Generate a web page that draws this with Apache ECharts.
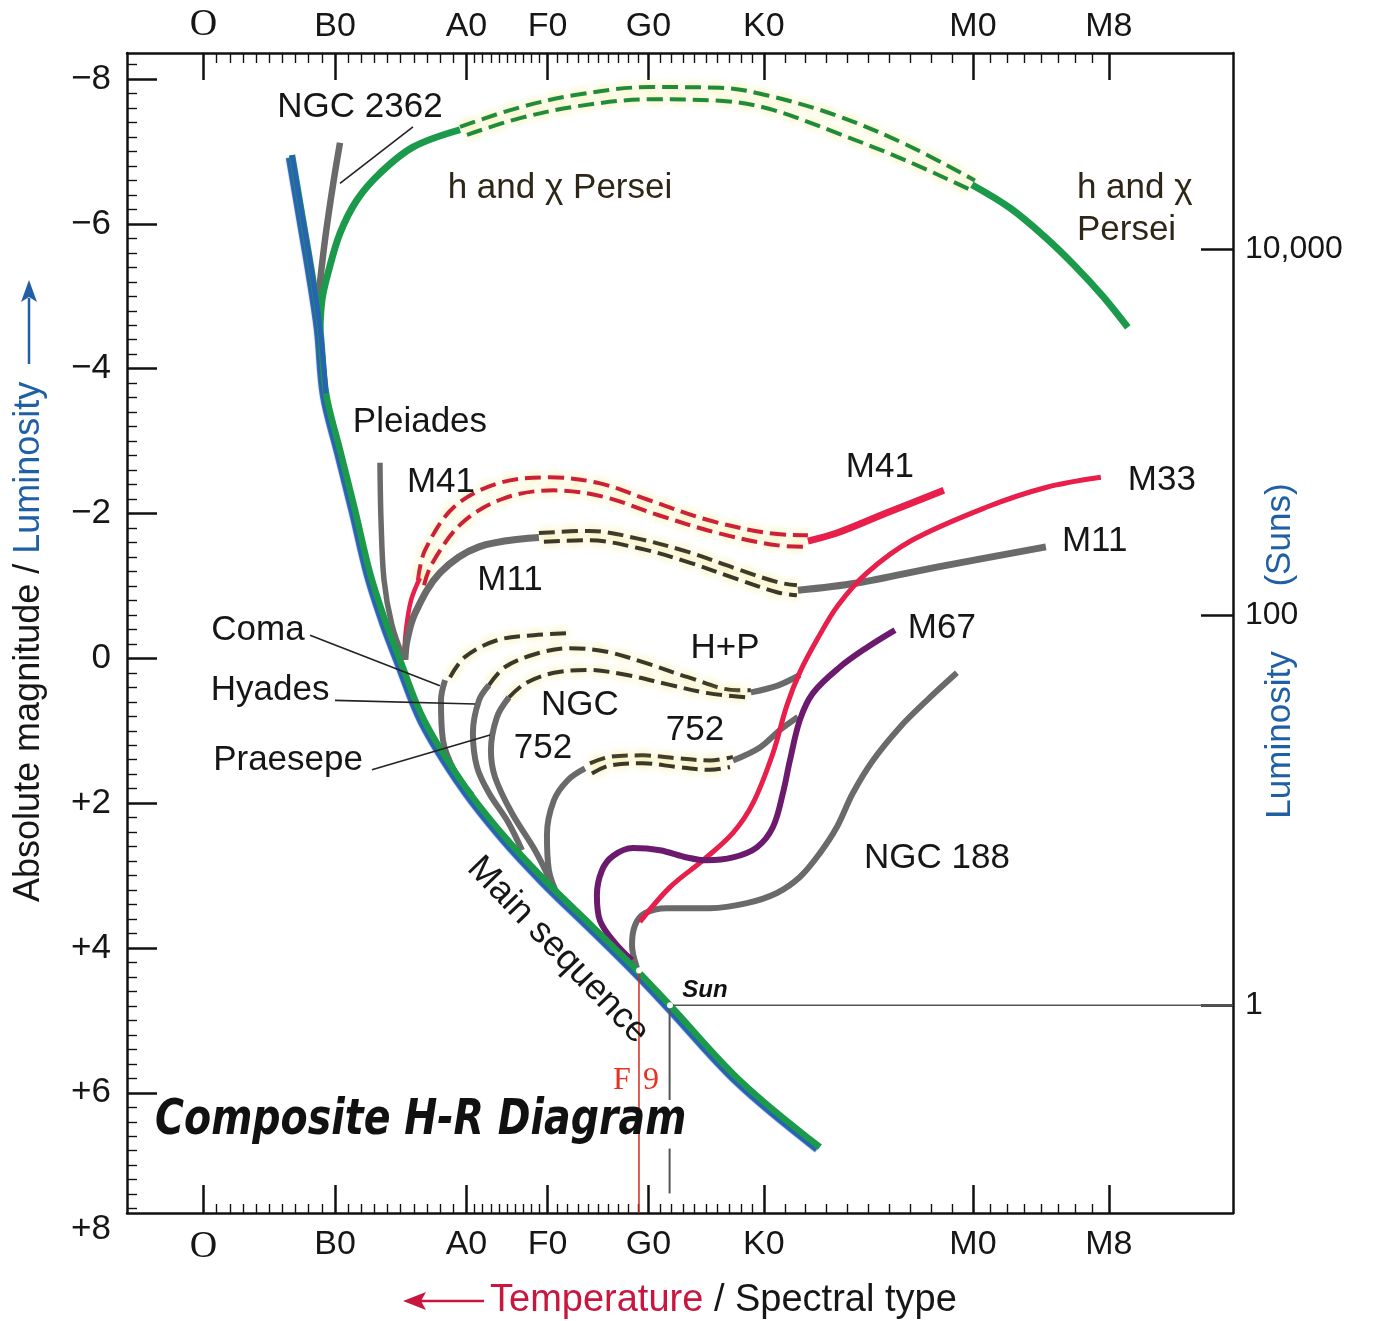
<!DOCTYPE html>
<html><head><meta charset="utf-8">
<script src="https://cdn.jsdelivr.net/npm/echarts/dist/echarts.min.js"></script>
<style>html,body{margin:0;padding:0;background:#fff}#c{width:1377px;height:1321px}</style>
</head><body><div id="c"></div>
<script>
// ---------- axes (x = spectral position, O=0, B0=10, A0=20 ; y = absolute magnitude) ----------
const XMIN = -5.82, XMAX = 78.3;
const YMIN = -8.36, YMAX = 7.66;
const spectralLabels = ['O', 'B0', 'A0', 'F0', 'G0', 'K0', 'M0', 'M8'];
const spectralPos    = [0, 10, 20, 26.16, 33.84, 42.62, 58.52, 68.86];
const spectralSubdiv = [10, 10, 10, 10, 10, 10, 8];
const magTicks  = [-8, -6, -4, -2, 0, 2, 4, 6];
const magLabels = ['\u22128', '\u22126', '\u22124', '\u22122', '0', '+2', '+4', '+6'];
const magBottomLabel = '+8';
const lumLabels = ['10,000', '100', '1'];
const lumPos    = [-5.65, -0.60, 4.79];

// ---------- curves [spectral position, magnitude] ----------
const mainSequence = [[6.73,-6.95],[7.57,-6.05],[8.25,-5.32],[8.86,-4.57],[9.32,-3.66],[10.38,-2.88],[11.52,-2.05],[12.66,-1.18],[13.80,-0.53],[14.94,0.02],[16.77,0.85],[19.89,1.77],[22.93,2.47],[26.05,3.08],[29.62,3.71],[32.97,4.31],[35.48,4.79],[40.80,5.83],[46.88,6.75]];
const ngc2362 = [[10.38,-7.12],[9.85,-6.54],[9.24,-5.78],[8.71,-4.95]];
const perseiLeft = [[8.86,-4.53],[9.01,-4.95],[9.47,-5.32],[10.38,-5.87],[11.67,-6.33],[13.42,-6.70],[15.93,-7.06],[19.51,-7.30]];
const perseiUpper = [[19.51,-7.34],[24.07,-7.61],[28.63,-7.79],[33.95,-7.89],[39.28,-7.88],[43.00,-7.77],[48.25,-7.49],[53.50,-7.09],[58.67,-6.60]];
const perseiLower = [[20.04,-7.23],[24.07,-7.46],[28.63,-7.63],[33.95,-7.72],[39.28,-7.70],[43.00,-7.59],[48.25,-7.25],[53.50,-6.87],[58.21,-6.48]];
const perseiRight = [[58.44,-6.54],[61.33,-6.22],[63.99,-5.82],[66.27,-5.42],[68.40,-5.00],[70.30,-4.57]];
const pleiades = [[13.42,-2.70],[13.50,-1.91],[13.73,-1.08],[14.33,-0.46],[15.25,0.02]];
const m41Left  = [[15.25,0.02],[15.40,-0.39],[15.78,-0.80],[16.46,-1.11]];
const m41Upper = [[16.31,-1.08],[16.84,-1.49],[19.05,-2.09],[22.47,-2.42],[26.27,-2.50],[30.08,-2.42],[33.80,-2.19],[38.37,-1.91],[42.93,-1.73],[45.97,-1.70]];
const m41Lower = [[16.77,-1.01],[17.38,-1.31],[19.66,-1.87],[22.85,-2.21],[26.65,-2.32],[30.46,-2.23],[34.56,-1.98],[39.13,-1.73],[43.69,-1.56],[45.97,-1.54]];
const m41Right = [[45.97,-1.62],[48.17,-1.73],[51.98,-2.01],[56.31,-2.32]];
const m11Left  = [[15.32,0.02],[15.48,-0.25],[16.08,-0.62],[17.98,-1.18],[20.95,-1.54],[25.51,-1.67]];
const m11Upper = [[25.51,-1.73],[29.32,-1.76],[33.12,-1.65],[36.84,-1.47],[40.65,-1.23],[43.69,-1.05],[45.13,-1.01]];
const m11Lower = [[25.89,-1.61],[29.32,-1.63],[33.12,-1.52],[36.84,-1.33],[40.65,-1.09],[43.69,-0.91],[45.13,-0.87]];
const m11Right = [[45.21,-0.94],[49.70,-1.04],[55.78,-1.26],[64.07,-1.54]];
const m3 = [[33.19,3.64],[35.48,3.16],[37.98,2.79],[40.27,2.41],[41.79,2.00],[43.31,1.31],[44.37,0.65],[45.36,0.19],[46.73,-0.28],[48.25,-0.73],[50.46,-1.18],[53.88,-1.63],[59.58,-2.09],[64.07,-2.36],[68.25,-2.50]];
const m67 = [[32.59,4.17],[31.29,3.93],[30.15,3.62],[29.92,3.27],[30.30,2.93],[31.14,2.73],[32.66,2.62],[34.71,2.65],[36.77,2.75],[38.29,2.79],[40.27,2.75],[42.09,2.61],[43.31,2.33],[44.07,1.86],[44.60,1.41],[45.36,0.85],[46.35,0.48],[48.40,0.12],[50.46,-0.15],[52.59,-0.39]];
const ngc188 = [[32.97,4.28],[32.59,3.96],[32.81,3.69],[33.57,3.52],[35.25,3.45],[38.52,3.45],[41.33,3.38],[43.61,3.24],[45.36,3.02],[46.88,2.69],[48.17,2.33],[49.39,1.86],[50.91,1.41],[52.97,0.95],[55.02,0.58],[57.30,0.20]];
const coma     = [[18.37,0.30],[18.06,0.58],[18.21,1.13],[19.13,1.57],[20.42,1.89]];
const hyades   = [[21.71,0.37],[20.95,0.58],[20.49,1.03],[20.80,1.50],[21.71,1.86],[23.16,2.26],[24.22,2.65]];
const praesepe = [[23.23,0.54],[22.32,0.81],[21.86,1.27],[22.17,1.64],[23.46,2.14],[25.21,2.65],[26.35,3.06]];
const comaDash = [[18.75,0.26],[19.89,-0.02],[22.32,-0.25],[25.13,-0.32],[27.87,-0.35]];
const hpUpper  = [[21.71,0.37],[22.93,0.12],[25.44,-0.07],[27.87,-0.14],[30.68,-0.09],[33.73,0.07],[36.84,0.26],[40.57,0.44],[41.63,0.44]];
const hpLower  = [[23.23,0.54],[24.52,0.34],[26.65,0.20],[29.16,0.16],[32.21,0.23],[35.32,0.36],[38.37,0.48],[41.41,0.54]];
const hpRight  = [[41.63,0.47],[43.61,0.38],[45.36,0.23]];
const ngc752Left  = [[27.11,3.34],[26.27,2.93],[26.12,2.44],[26.65,1.96],[27.72,1.68],[29.01,1.52]];
const ngc752Upper = [[29.39,1.45],[30.91,1.36],[33.42,1.34],[36.01,1.38],[38.52,1.41],[40.27,1.36]];
const ngc752Lower = [[29.54,1.59],[30.91,1.48],[33.42,1.45],[36.01,1.50],[38.52,1.54],[40.04,1.50]];
const ngc752Right = [[40.27,1.41],[42.32,1.23],[43.84,0.99],[45.21,0.81]];
const leaderNgc2362  = [[10.38,-6.56],[15.93,-7.34]];
const leaderComa     = [[8.10,-0.32],[17.98,0.38]];
const leaderHyades   = [[10.0,0.58],[20.65,0.63]];
const leaderPraesepe = [[12.81,1.54],[21.79,1.06]];
const sunPoint = [35.48, 4.79];
const f9Point  = [33.12, 4.31];
const sunLineH = [[35.48,4.79],[78.3,4.79]];
const sunDropA = [[35.45,4.84],[35.45,6.10]];
const sunDropB = [[35.45,6.77],[35.45,7.39]];
const f9Line   = [[33.12,4.31],[33.12,7.66]];

// ---------- annotations [text, x, y, kind] ----------
const annotations = [
  ['NGC 2362', 11.90, -7.61, 'c'],
  ['h and \u03c7 Persei', 27.11, -6.49, 'p'],
  ['h and \u03c7\nPersei', 66.43, -6.20, 'pl'],
  ['Pleiades', 16.46, -3.26, 'c'],
  ['M41', 18.06, -2.43, 'c'],
  ['M41', 51.44, -2.64, 'c'],
  ['M33', 70.30, -2.46, 'l'],
  ['M11', 23.31, -1.08, 'c'],
  ['M11', 65.29, -1.61, 'l'],
  ['Coma', 4.14, -0.39, 'c'],
  ['H+P', 39.66, -0.14, 'c'],
  ['Hyades', 5.06, 0.44, 'c'],
  ['NGC', 28.63, 0.65, 'c'],
  ['752', 25.82, 1.24, 'c'],
  ['752', 37.38, 0.99, 'c'],
  ['Praesepe', 6.43, 1.41, 'c'],
  ['M67', 53.57, -0.42, 'l'],
  ['NGC 188', 55.78, 2.76, 'c'],
  ['Main sequence', 26.96, 4.03, 'ms'],
  ['Sun', 38.14, 4.58, 'sun'],
  ['F', 31.83, 5.83, 'f9'],
  ['9', 34.03, 5.83, 'f9']
];

// ---------- styling ----------
const FONT = 'Liberation Sans';
const AX = '#111', TXT = '#161616', BLUE = '#1f5fa6', CRIMSON = '#c8163f';
const GRAY = '#6a6a6a', RED = '#e81e4b', PURPLE = '#6c1a6e', GREEN = '#1c9a4c', MSBLUE = '#2762b3';
const DASHDARK = '#3b372a', DASHGREEN = '#1f8b3b', DASHRED = '#cc1f3a';
const GLOW = 'rgba(240,230,110,0.95)';

const majorX = spectralPos.slice();
const minorX = [];
for (let i = 0; i < spectralPos.length - 1; i++) {
  const a = spectralPos[i], b = spectralPos[i + 1], n = spectralSubdiv[i];
  for (let k = 1; k < n; k++) minorX.push(a + (b - a) * k / n);
}
const minorY = [];
for (let k = -41; k <= 38; k++) { if (k % 10 !== 0) minorY.push(k / 5); }

function fmtX(v) {
  for (let i = 0; i < spectralPos.length; i++) if (Math.abs(v - spectralPos[i]) < 1e-6) return spectralLabels[i] === 'O' ? '{s|O}' : spectralLabels[i];
  return '';
}
function fmtY(v) {
  for (let i = 0; i < magTicks.length; i++) if (Math.abs(v - magTicks[i]) < 1e-6) return magLabels[i];
  if (Math.abs(v - YMAX) < 1e-6) return '{d|' + magBottomLabel + '}';
  return '';
}
function fmtLum(v) {
  for (let i = 0; i < lumPos.length; i++) if (Math.abs(v - lumPos[i]) < 1e-6) return lumLabels[i];
  return '';
}
function xMajor(pos, len) {
  return {type:'value', position:pos, min:XMIN, max:XMAX,
    axisLine:{show:true, onZero:false, lineStyle:{color:AX, width:2.5}},
    axisTick:{show:true, inside:true, length:len, customValues:majorX, lineStyle:{color:AX, width:2.5}},
    axisLabel:{show:true, customValues:majorX, margin: pos === 'top' ? 9 : 15, fontSize:34, color:TXT, fontFamily:FONT,
      formatter:fmtX, rich:{s:{fontFamily:'Liberation Serif', fontSize:38, color:TXT}}},
    splitLine:{show:false}};
}
function xMinor(pos, len) {
  return {type:'value', position:pos, min:XMIN, max:XMAX,
    axisLine:{show:false, onZero:false},
    axisTick:{show:true, inside:true, length:len, customValues:minorX, lineStyle:{color:AX, width:1.4}},
    axisLabel:{show:false}, splitLine:{show:false}};
}
function curve(data, color, width, z, extra) {
  const ls = Object.assign({color:color, width:width, cap:'round', join:'round'}, extra || {});
  return {type:'line', data:data, xAxisIndex:0, yAxisIndex:0, symbol:'none', smooth:0.35, silent:true, z:z, lineStyle:ls};
}
function dashed(data, color, z) {
  return curve(data, color, 4, z, {type:[16, 7], cap:'butt', shadowColor:GLOW, shadowBlur:8});
}
function straight(data, color, width, z) {
  return {type:'line', data:data, xAxisIndex:0, yAxisIndex:0, symbol:'none', smooth:false, silent:true, z:z,
    lineStyle:{color:color, width:width, cap:'butt'}};
}

const labelItems = annotations.map(function (a) {
  const kind = a[3];
  const lab = {show:true, formatter:a[0], position:'inside', fontFamily:FONT, fontSize:35, color:TXT, align:'center', verticalAlign:'middle', opacity:1};
  if (kind === 'l') lab.align = 'left';
  if (kind === 'p') lab.color = '#2e2718';
  if (kind === 'pl') { lab.color = '#2e2718'; lab.align = 'left'; lab.lineHeight = 42; }
  if (kind === 'ms') { lab.rotate = -46; lab.fontSize = 36; }
  if (kind === 'sun') { lab.fontSize = 24; lab.fontStyle = 'italic'; lab.fontWeight = 'bold'; lab.color = '#111'; }
  if (kind === 'f9') { lab.fontSize = 32; lab.fontFamily = 'Liberation Serif'; lab.color = '#e8321f'; }
  return {value:[a[1], a[2]], label:lab};
});

const series = [
  dashed(perseiUpper, DASHGREEN, 2), dashed(perseiLower, DASHGREEN, 2),
  dashed(m41Upper, DASHRED, 2), dashed(m41Lower, DASHRED, 2),
  dashed(m11Upper, DASHDARK, 2), dashed(m11Lower, DASHDARK, 2),
  dashed(comaDash, DASHDARK, 2), dashed(hpUpper, DASHDARK, 2), dashed(hpLower, DASHDARK, 2),
  dashed(ngc752Upper, DASHDARK, 2), dashed(ngc752Lower, DASHDARK, 2),
  curve(ngc2362, GRAY, 6.5, 3, {cap:'butt'}),
  curve(perseiLeft, GREEN, 7, 3, {cap:'butt'}),
  curve(perseiRight, GREEN, 7, 3, {cap:'butt'}),
  curve(pleiades, GRAY, 5.5, 3, {cap:'butt'}),
  curve(m41Left, RED, 4.5, 3, {cap:'butt'}),
  curve(m41Right, RED, 7, 3, {cap:'butt'}),
  curve(m11Left, GRAY, 7, 3, {cap:'butt'}),
  curve(m11Right, GRAY, 7, 3, {cap:'butt'}),
  curve(coma, GRAY, 6, 3, {cap:'butt'}),
  curve(hyades, GRAY, 6, 3, {cap:'butt'}),
  curve(praesepe, GRAY, 6, 3, {cap:'butt'}),
  curve(hpRight, GRAY, 6, 3, {cap:'butt'}),
  curve(ngc752Left, GRAY, 6, 3, {cap:'butt'}),
  curve(ngc752Right, GRAY, 6, 3, {cap:'butt'}),
  curve(ngc188, GRAY, 6, 3, {cap:'butt'}),
  curve(m3, RED, 5, 4, {cap:'butt'}),
  curve(m67, PURPLE, 6, 4, {cap:'butt'}),
  curve(mainSequence, GREEN, 6.5, 5, {cap:'butt', shadowColor:MSBLUE, shadowOffsetX:-3, shadowOffsetY:2.5, shadowBlur:1}),
  curve(mainSequence.slice(0, 5), MSBLUE, 5, 6, {cap:'butt'}),
  straight(leaderNgc2362, '#222', 1.6, 7), straight(leaderComa, '#222', 1.6, 7),
  straight(leaderHyades, '#222', 1.6, 7), straight(leaderPraesepe, '#222', 1.6, 7),
  straight(sunLineH, '#555', 1.6, 7), straight(sunDropA, '#555', 2, 7), straight(sunDropB, '#555', 2, 7),
  straight(f9Line, '#d42a1e', 1.5, 7),
  {type:'scatter', xAxisIndex:0, yAxisIndex:0, silent:true, z:8, symbol:'circle', symbolSize:6,
    itemStyle:{color:'#fff', opacity:1}, data:[sunPoint, f9Point]},
  {type:'scatter', xAxisIndex:0, yAxisIndex:0, silent:true, z:9, symbolSize:0,
    itemStyle:{color:'#fff', opacity:1}, data:labelItems}
];

const option = {
  animation:false,
  backgroundColor:'#fff',
  textStyle:{fontFamily:FONT},
  grid:{left:127, right:144, top:53, bottom:108, containLabel:false, outerBoundsMode:'none'},
  xAxis:[xMajor('bottom', 28), xMinor('bottom', 9), xMajor('top', 27), xMinor('top', 10)],
  yAxis:[
    {type:'value', inverse:true, position:'left', min:YMIN, max:YMAX,
      axisLine:{show:true, onZero:false, lineStyle:{color:AX, width:2.5}},
      axisTick:{show:true, inside:true, length:30, customValues:magTicks, lineStyle:{color:AX, width:2.5}},
      axisLabel:{show:true, customValues:magTicks.concat([YMAX]), formatter:fmtY, margin:16, fontSize:35, color:TXT, fontFamily:FONT,
        rich:{d:{fontSize:35, color:TXT, fontFamily:FONT, padding:[32,0,0,0]}}},
      splitLine:{show:false}},
    {type:'value', inverse:true, position:'left', min:YMIN, max:YMAX,
      axisLine:{show:false, onZero:false},
      axisTick:{show:true, inside:true, length:10, customValues:minorY, lineStyle:{color:AX, width:1.4}},
      axisLabel:{show:false}, splitLine:{show:false}},
    {type:'value', inverse:true, position:'right', min:YMIN, max:YMAX,
      axisLine:{show:true, onZero:false, lineStyle:{color:AX, width:2.5}},
      axisTick:{show:true, inside:true, length:32, customValues:lumPos, lineStyle:{color:AX, width:2.5}},
      axisLabel:{show:true, customValues:lumPos, formatter:fmtLum, margin:12, fontSize:32, color:TXT, fontFamily:FONT},
      splitLine:{show:false}}
  ],
  series:series,
  graphic:[
    {type:'text', x:29, y:902, rotation:Math.PI/2, z:20,
      style:{text:'{k|Absolute magnitude / }{b|Luminosity}', align:'left', verticalAlign:'middle', textAlign:'left', textVerticalAlign:'middle',
        rich:{k:{fill:TXT, color:TXT, fontSize:36, fontFamily:FONT}, b:{fill:BLUE, color:BLUE, fontSize:36, fontFamily:FONT}}}},
    {type:'line', z:20, shape:{x1:29, y1:364, x2:29, y2:298}, style:{stroke:BLUE, lineWidth:2.5}},
    {type:'polygon', z:20, shape:{points:[[29,280],[21,302],[29,297],[37,302]]}, style:{fill:BLUE}},
    {type:'text', x:490, y:1301, z:20,
      style:{text:'{t|Temperature}{k| / Spectral type}', align:'left', verticalAlign:'middle', textAlign:'left', textVerticalAlign:'middle',
        rich:{t:{fill:CRIMSON, color:CRIMSON, fontSize:38, fontFamily:FONT}, k:{fill:TXT, color:TXT, fontSize:38, fontFamily:FONT}}}},
    {type:'line', z:20, shape:{x1:484, y1:1301, x2:420, y2:1301}, style:{stroke:CRIMSON, lineWidth:2.5}},
    {type:'polygon', z:20, shape:{points:[[403,1301],[426,1292],[421,1301],[426,1310]]}, style:{fill:CRIMSON}},
    {type:'text', x:1280, y:735, rotation:Math.PI/2, z:20,
      style:{text:'Luminosity', fill:BLUE, fontSize:35, fontFamily:FONT, align:'center', verticalAlign:'middle', textAlign:'center', textVerticalAlign:'middle'}},
    {type:'text', x:1280, y:535, rotation:Math.PI/2, z:20,
      style:{text:'(Suns)', fill:BLUE, fontSize:35, fontFamily:FONT, align:'center', verticalAlign:'middle', textAlign:'center', textVerticalAlign:'middle'}},
    {type:'text', x:155, y:1121, scaleX:0.79, z:20,
      style:{text:'Composite H-R Diagram', fill:'#111', fontSize:50, fontWeight:'bold', fontStyle:'italic', fontFamily:'DejaVu Sans',
        align:'left', verticalAlign:'middle', textAlign:'left', textVerticalAlign:'middle'}}
  ]
};

const chart = echarts.init(document.getElementById('c'), null, {renderer:'canvas'});
chart.setOption(option);
</script></body></html>
